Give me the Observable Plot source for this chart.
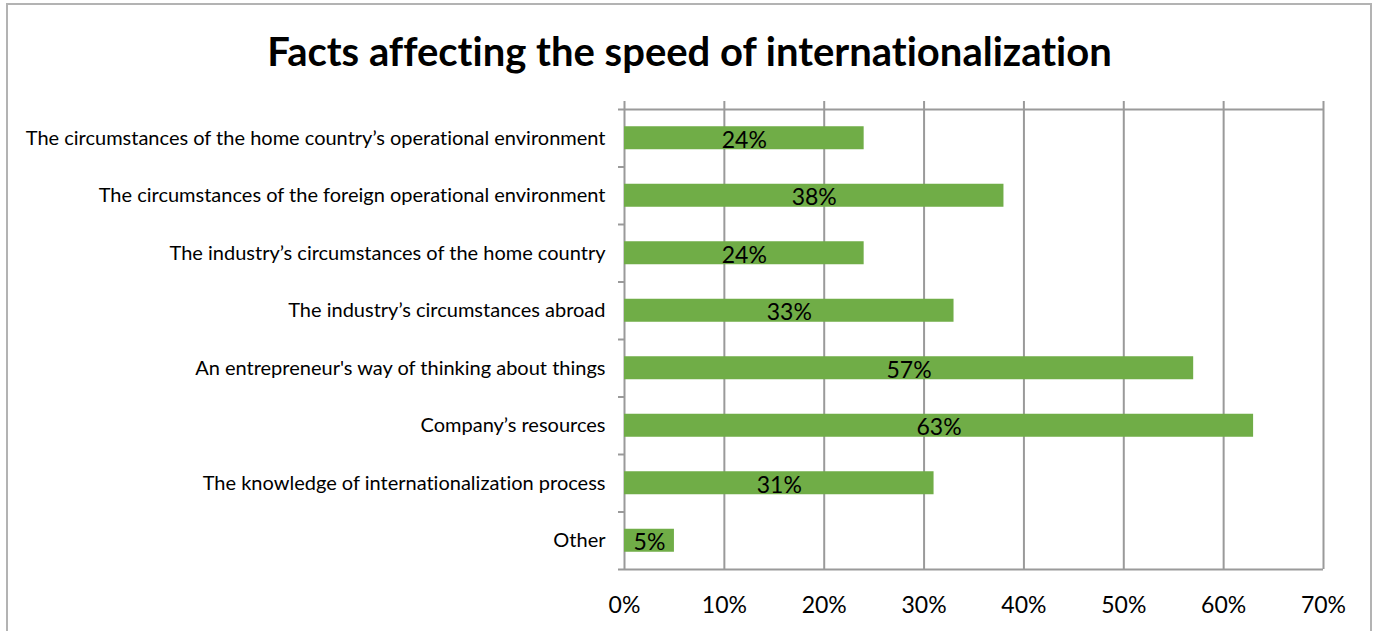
<!DOCTYPE html>
<html>
<head>
<meta charset="utf-8">
<script src="https://cdn.jsdelivr.net/npm/d3@7"></script>
<script src="https://cdn.jsdelivr.net/npm/@observablehq/plot@0.6"></script>
<style>
  body { margin: 0; background: #fff; }
  #wrap { position: relative; width: 1379px; height: 631px; overflow: hidden; font-family: Lato, "Open Sans", sans-serif; font-variant-ligatures: none; }
  #wrap svg text { font-variant-ligatures: none; }
  #border { position: absolute; left: 6px; top: 3px; width: 1366px; height: 700px; border: 2px solid #b3b3b3; box-sizing: border-box; }
  #title { position: absolute; left: 0; top: 0; width: 1379px; height: 95px; text-align: center; font-weight: bold; font-size: 40px; line-height: 102px; color: #000; }
  #chart { position: absolute; left: 0; top: 95px; }
</style>
</head>
<body>
<div id="wrap">
  <div id="border"></div>
  <div id="title">Facts affecting the speed of internationalization</div>
  <div id="chart"></div>
</div>
<script>
const categories = [
  "The circumstances of the home country’s operational environment",
  "The circumstances of the foreign operational environment",
  "The industry’s circumstances of the home country",
  "The industry’s circumstances abroad",
  "An entrepreneur's way of thinking about things",
  "Company’s resources",
  "The knowledge of internationalization process",
  "Other"
];
const values = [0.24, 0.38, 0.24, 0.33, 0.57, 0.63, 0.31, 0.05];
const xTicks = [0, 0.1, 0.2, 0.3, 0.4, 0.5, 0.6, 0.7];

const data = categories.map((c, i) => ({category: c, value: values[i], i}));
const bounds = d3.range(categories.length + 1);
const centers = categories.map((c, i) => i + 0.5);
const grid = "#9a9a9a";

const plot = Plot.plot({
  width: 1379,
  height: 536,
  marginLeft: 624,
  marginRight: 56,
  marginTop: 14,
  marginBottom: 62,
  style: {fontFamily: "Lato, 'Open Sans', sans-serif", background: "transparent", overflow: "visible"},
  x: {domain: [0, 0.7]},
  y: {domain: [0, categories.length], reverse: true},
  marks: [
    Plot.ruleX(xTicks, {x: d => d, stroke: grid, strokeWidth: 2, insetTop: -8}),
    Plot.ruleY([0, categories.length], {stroke: grid, strokeWidth: 2}),
    Plot.rectX(data, {x1: 0, x2: "value", y1: d => d.i + 0.3, y2: d => d.i + 0.7, fill: "#70ad47"}),
    Plot.text(data, {x: d => d.value / 2, y: d => d.i + 0.5, text: d => d3.format(".0%")(d.value), fontSize: 23, fill: "#000", dy: 2}),
    Plot.axisY(bounds, {tickSize: 6, stroke: grid, strokeWidth: 2, tickFormat: () => "", label: null}),
    Plot.axisY(centers, {tickSize: 0, tickPadding: 19, tickFormat: d => categories[Math.floor(d)], fontSize: 20, fill: "#000", label: null}),
    Plot.axisX(xTicks, {tickSize: 0, tickPadding: 27, tickFormat: d3.format(".0%"), fontSize: 23, fill: "#000", label: null})
  ]
});
document.getElementById("chart").appendChild(plot);
</script>
</body>
</html>
